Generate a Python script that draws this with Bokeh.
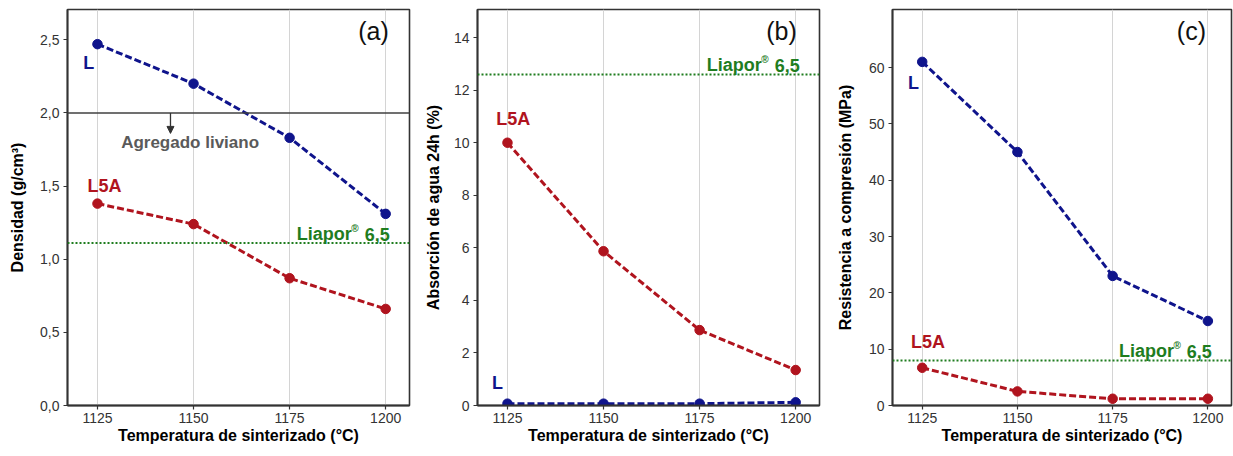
from bokeh.plotting import figure
from bokeh.layouts import row
from bokeh.models import Range1d, FixedTicker, Span, Arrow, NormalHead, Label
from bokeh.embed import file_html
from bokeh.resources import INLINE

# ---------------- data ----------------
temps = [1125, 1150, 1175, 1200]
x_ticks = [1125, 1150, 1175, 1200]

dens_L = [2.47, 2.20, 1.83, 1.31]
dens_L5A = [1.38, 1.24, 0.87, 0.66]
dens_liapor = 1.11
dens_limit = 2.0
dens_ticks = [0.0, 0.5, 1.0, 1.5, 2.0, 2.5]
dens_tick_labels = ["0,0", "0,5", "1,0", "1,5", "2,0", "2,5"]

abs_L = [0.07, 0.07, 0.07, 0.12]
abs_L5A = [10.0, 5.87, 2.87, 1.35]
abs_liapor = 12.6
abs_ticks = [0, 2, 4, 6, 8, 10, 12, 14]

res_L = [61.0, 45.0, 23.0, 15.0]
res_L5A = [6.7, 2.5, 1.2, 1.2]
res_liapor = 8.0
res_ticks = [0, 10, 20, 30, 40, 50, 60]

BLUE = "#0f148c"
RED = "#b0141e"
GREEN = "#1f7d1f"
FONT = "Liberation Sans"


def make_fig(width, left, right, bottom, yr, yticks, ylabel, ylabels=None, standoff=10):
    p = figure(width=width, height=456, output_backend="svg", toolbar_location=None,
               x_range=Range1d(1117.2, 1206.2), y_range=yr,
               min_border_left=left, min_border_right=right,
               min_border_top=9, min_border_bottom=bottom,
               x_axis_label="Temperatura de sinterizado (°C)", y_axis_label=ylabel)
    p.outline_line_color = "#333333"
    p.outline_line_width = 1.6
    p.background_fill_color = "white"
    p.border_fill_color = "white"
    p.ygrid.grid_line_color = None
    p.xgrid.grid_line_color = "#d4d4d4"
    p.xgrid.grid_line_width = 1
    p.xaxis.ticker = FixedTicker(ticks=x_ticks)
    p.yaxis.ticker = FixedTicker(ticks=yticks)
    if ylabels:
        p.yaxis.major_label_overrides = {t: l for t, l in zip(yticks, ylabels)}
    for ax in (p.xaxis, p.yaxis):
        ax.axis_line_color = "#333333"
        ax.axis_line_width = 1.8
        ax.major_tick_line_color = "#333333"
        ax.major_tick_line_width = 1.2
        ax.major_tick_out = 4
        ax.major_tick_in = 0
        ax.minor_tick_line_color = None
        ax.major_label_text_font = FONT
        ax.major_label_text_font_size = "14px"
        ax.major_label_text_color = "#333333"
        ax.axis_label_text_font = FONT
        ax.axis_label_text_font_style = "bold"
        ax.axis_label_text_font_size = "16px"
        ax.axis_label_text_color = "#000000"
    p.xaxis.major_label_standoff = 3
    p.xaxis.axis_label_standoff = 1
    p.yaxis.major_label_standoff = 4
    p.yaxis.axis_label_standoff = standoff
    return p


def series(p, y, color):
    p.line(temps, y, line_color=color, line_width=3, line_dash="7 3")
    p.scatter(temps, y, size=9.5, fill_color=color, line_color=color)


def txt(p, x, y, text, color, size="18px", style="bold", align="center",
        baseline="middle", xo=0, yo=0):
    p.add_layout(Label(x=x, y=y, text=text, text_color=color, text_font=FONT,
                       text_font_size=size, text_font_style=style, text_align=align,
                       text_baseline=baseline, x_offset=xo, y_offset=yo))


def liapor(p, yval):
    p.add_layout(Span(location=yval, dimension="width", line_color=GREEN,
                      line_width=2, line_dash="2 2"))
    # "6,5" then small superscript ® then "Liapor", right-aligned near x=1200
    txt(p, 1200, yval, "6,5", GREEN, align="right", baseline="alphabetic", xo=4, yo=9)
    txt(p, 1200, yval, "®", GREEN, size="10px", align="right", baseline="alphabetic",
        xo=-27, yo=15)
    txt(p, 1200, yval, "Liapor", GREEN, align="right", baseline="alphabetic", xo=-34, yo=9)


# ---------------- (a) Densidad ----------------
pa = make_fig(412, 67, 3, 49, Range1d(0, 2.707), dens_ticks, "Densidad (g/cm³)",
              dens_tick_labels, standoff=11)
pa.add_layout(Span(location=dens_limit, dimension="width", line_color="#404040",
                   line_width=1.6))
pa.add_layout(Arrow(end=NormalHead(size=7, fill_color="#333333", line_color="#333333"),
                    x_start=1144, y_start=dens_limit, x_end=1144, y_end=1.86,
                    line_color="#333333", line_width=1.3))
txt(pa, 1149.1, 1.80, "Agregado liviano", "#5a5a5a", size="17px")
liapor(pa, dens_liapor)
series(pa, dens_L, BLUE)
series(pa, dens_L5A, RED)
txt(pa, 1122.7, 2.34, "L", BLUE)
txt(pa, 1126.8, 1.50, "L5A", RED)
txt(pa, 1200.8, 2.56, "(a)", "#111111", size="25px", style="normal", align="right")

# ---------------- (b) Absorción ----------------
pb = make_fig(410, 65, 3, 51, Range1d(0, 15.07), abs_ticks, "Absorción de agua 24h (%)",
              standoff=9)
liapor(pb, abs_liapor)
series(pb, abs_L5A, RED)
series(pb, abs_L, BLUE)
txt(pb, 1126.5, 10.9, "L5A", RED)
txt(pb, 1122.4, 0.84, "L", BLUE)
txt(pb, 1200.3, 14.27, "(b)", "#111111", size="25px", style="normal", align="right")

# ---------------- (c) Resistencia ----------------
pc = make_fig(411, 70, 2, 50, Range1d(0, 70.3), res_ticks, "Resistencia a compresión (MPa)",
              standoff=12)
liapor(pc, res_liapor)
series(pc, res_L, BLUE)
series(pc, res_L5A, RED)
txt(pc, 1122.7, 57.2, "L", BLUE)
txt(pc, 1126.5, 11.2, "L5A", RED)
txt(pc, 1199.5, 66.5, "(c)", "#111111", size="25px", style="normal", align="right")

layout = row(pa, pb, pc)
open("out.html", "w").write(file_html(layout, INLINE))
